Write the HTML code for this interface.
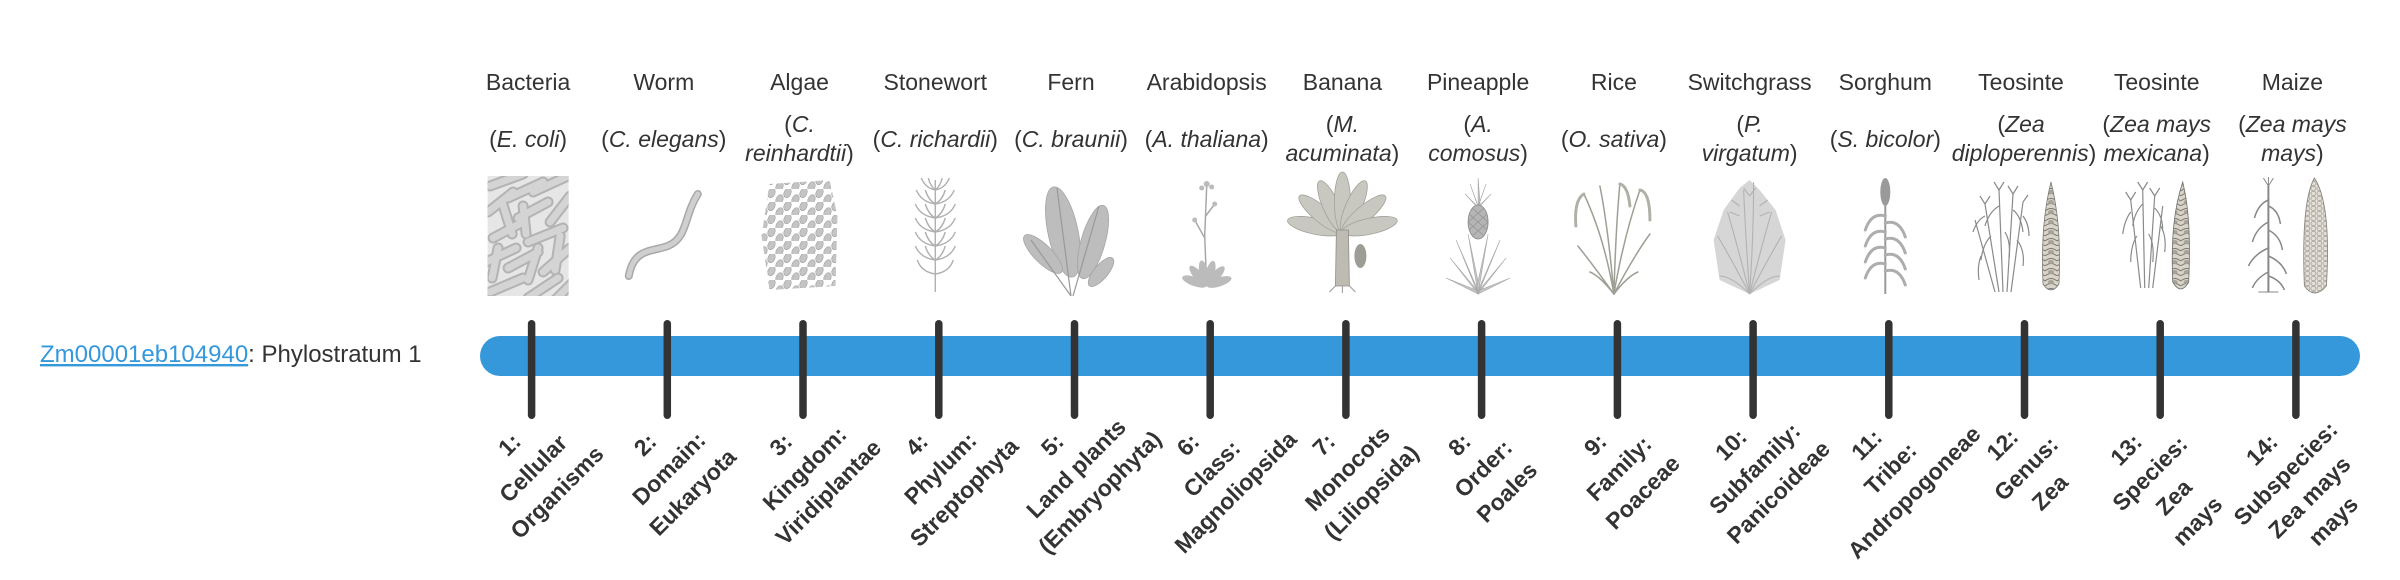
<!DOCTYPE html>
<html>
<head>
<meta charset="utf-8">
<style>
  html,body{margin:0;padding:0;background:#fff;}
  svg{display:block;}
  .t{font-family:"Liberation Sans",sans-serif;font-size:23px;fill:#333;text-anchor:middle;}
  .i{font-style:italic;}
  .lb{font-family:"Liberation Sans",sans-serif;font-weight:bold;font-size:23px;fill:#333;text-anchor:middle;dominant-baseline:central;}
  .gl{font-family:"Liberation Sans",sans-serif;font-size:24px;}
</style>
</head>
<body>
<svg width="2400" height="580" viewBox="0 0 2400 580" xmlns="http://www.w3.org/2000/svg">
<defs>
  <pattern id="alg" width="16" height="13" patternUnits="userSpaceOnUse">
    <ellipse cx="4" cy="4" rx="3.4" ry="5" transform="rotate(25 4 4)" fill="#c4c4c4" stroke="#a2a2a2" stroke-width="0.6"/>
    <ellipse cx="12" cy="10.5" rx="3.4" ry="5" transform="rotate(25 12 10.5)" fill="#c4c4c4" stroke="#a2a2a2" stroke-width="0.6"/>
    <path d="M6 -1 q3 -3 6 -2 M14 6 q3 -3 4 -5" stroke="#cfcfcf" stroke-width="0.5" fill="none"/>
  </pattern>
  <pattern id="kern" width="6" height="5" patternUnits="userSpaceOnUse">
    <rect x="0" y="0" width="6" height="5" fill="#ebe8e2"/>
    <rect x="0.6" y="0.6" width="4.8" height="3.8" rx="1.4" fill="#e2ded6" stroke="#9a958c" stroke-width="0.6"/>
  </pattern>
  <pattern id="tcob" width="12" height="10" patternUnits="userSpaceOnUse">
    <rect width="12" height="10" fill="#d9d4ca"/>
    <path d="M0 5 Q6 0 12 5 M0 10 Q6 5 12 10" stroke="#7c776e" stroke-width="1" fill="none"/>
    <ellipse cx="6" cy="6" rx="3" ry="2" fill="#a9a397"/>
  </pattern>
  <clipPath id="bac"><rect x="-40.5" y="0" width="81" height="120"/></clipPath>
  <clipPath id="algc"><path d="M-30 8 L30 4 L38 40 L36 110 L-30 114 L-38 60 Z"/></clipPath>
</defs>

<!-- Left label -->
<text x="40" y="362" class="gl"><tspan fill="#3498db" text-decoration="underline">Zm00001eb104940</tspan><tspan fill="#333">: Phylostratum 1</tspan></text>

<!-- Top names -->
<g class="t">
  <text x="528.1" y="90">Bacteria</text>
  <text x="663.8" y="90">Worm</text>
  <text x="799.5" y="90">Algae</text>
  <text x="935.3" y="90">Stonewort</text>
  <text x="1071.0" y="90">Fern</text>
  <text x="1206.7" y="90">Arabidopsis</text>
  <text x="1342.4" y="90">Banana</text>
  <text x="1478.1" y="90">Pineapple</text>
  <text x="1613.9" y="90">Rice</text>
  <text x="1749.6" y="90">Switchgrass</text>
  <text x="1885.3" y="90">Sorghum</text>
  <text x="2021.0" y="90">Teosinte</text>
  <text x="2156.7" y="90">Teosinte</text>
  <text x="2292.4" y="90">Maize</text>
</g>

<!-- Scientific names -->
<g class="t">
  <text x="528.1" y="147">(<tspan class="i">E. coli</tspan>)</text>
  <text x="663.8" y="147">(<tspan class="i">C. elegans</tspan>)</text>
  <text x="799.5" y="132">(<tspan class="i">C.</tspan></text>
  <text x="799.5" y="161"><tspan class="i">reinhardtii</tspan>)</text>
  <text x="935.3" y="147">(<tspan class="i">C. richardii</tspan>)</text>
  <text x="1071.0" y="147">(<tspan class="i">C. braunii</tspan>)</text>
  <text x="1206.7" y="147">(<tspan class="i">A. thaliana</tspan>)</text>
  <text x="1342.4" y="132">(<tspan class="i">M.</tspan></text>
  <text x="1342.4" y="161"><tspan class="i">acuminata</tspan>)</text>
  <text x="1478.1" y="132">(<tspan class="i">A.</tspan></text>
  <text x="1478.1" y="161"><tspan class="i">comosus</tspan>)</text>
  <text x="1613.9" y="147">(<tspan class="i">O. sativa</tspan>)</text>
  <text x="1749.6" y="132">(<tspan class="i">P.</tspan></text>
  <text x="1749.6" y="161"><tspan class="i">virgatum</tspan>)</text>
  <text x="1885.3" y="147">(<tspan class="i">S. bicolor</tspan>)</text>
  <text x="2021.0" y="132">(<tspan class="i">Zea</tspan></text>
  <text x="2024.0" y="161"><tspan class="i">diploperennis</tspan>)</text>
  <text x="2156.7" y="132">(<tspan class="i">Zea mays</tspan></text>
  <text x="2156.7" y="161"><tspan class="i">mexicana</tspan>)</text>
  <text x="2292.4" y="132">(<tspan class="i">Zea mays</tspan></text>
  <text x="2292.4" y="161"><tspan class="i">mays</tspan>)</text>
</g>

<!-- Images -->
<!-- 1 Bacteria -->
<g transform="translate(528.1,176)">
  <g clip-path="url(#bac)">
    <rect x="-41" y="0" width="82" height="120" fill="#e6e6e6"/>
    <g stroke="#b3b3b3" stroke-width="11" stroke-linecap="round" fill="none">
      <line x1="-38" y1="10" x2="-5" y2="-2"/><line x1="-20" y1="22" x2="15" y2="6"/><line x1="5" y1="16" x2="40" y2="0"/>
      <line x1="-40" y1="36" x2="-15" y2="16"/><line x1="-10" y1="42" x2="20" y2="26"/><line x1="22" y1="46" x2="42" y2="20"/>
      <line x1="-35" y1="62" x2="-5" y2="46"/><line x1="0" y1="66" x2="35" y2="52"/><line x1="-42" y1="86" x2="-12" y2="72"/>
      <line x1="-20" y1="92" x2="10" y2="76"/><line x1="15" y1="96" x2="42" y2="72"/><line x1="-38" y1="116" x2="-5" y2="102"/>
      <line x1="0" y1="122" x2="30" y2="102"/><line x1="25" y1="126" x2="45" y2="106"/>
      <line x1="-26" y1="26" x2="-16" y2="58"/><line x1="10" y1="72" x2="0" y2="104"/><line x1="32" y1="60" x2="27" y2="94"/>
      <line x1="-30" y1="72" x2="-36" y2="102"/><line x1="-5" y1="30" x2="-2" y2="58"/>
    </g>
    <g stroke="#d4d4d4" stroke-width="7" stroke-linecap="round" fill="none">
      <line x1="-38" y1="10" x2="-5" y2="-2"/><line x1="-20" y1="22" x2="15" y2="6"/><line x1="5" y1="16" x2="40" y2="0"/>
      <line x1="-40" y1="36" x2="-15" y2="16"/><line x1="-10" y1="42" x2="20" y2="26"/><line x1="22" y1="46" x2="42" y2="20"/>
      <line x1="-35" y1="62" x2="-5" y2="46"/><line x1="0" y1="66" x2="35" y2="52"/><line x1="-42" y1="86" x2="-12" y2="72"/>
      <line x1="-20" y1="92" x2="10" y2="76"/><line x1="15" y1="96" x2="42" y2="72"/><line x1="-38" y1="116" x2="-5" y2="102"/>
      <line x1="0" y1="122" x2="30" y2="102"/><line x1="25" y1="126" x2="45" y2="106"/>
      <line x1="-26" y1="26" x2="-16" y2="58"/><line x1="10" y1="72" x2="0" y2="104"/><line x1="32" y1="60" x2="27" y2="94"/>
      <line x1="-30" y1="72" x2="-36" y2="102"/><line x1="-5" y1="30" x2="-2" y2="58"/>
    </g>
  </g>
</g>
<!-- 2 Worm -->
<g transform="translate(663.8,176)" fill="none" stroke-linecap="round">
  <path d="M-35 100 C-30 72,-12 76,4 70 C24 62,20 40,34 18" stroke="#a8a8a8" stroke-width="8"/>
  <path d="M-35 100 C-30 72,-12 76,4 70 C24 62,20 40,34 18" stroke="#cfcfcf" stroke-width="5"/>
</g>
<!-- 3 Algae -->
<g transform="translate(799.5,176)">
  <rect x="-40" y="4" width="80" height="112" fill="url(#alg)" clip-path="url(#algc)"/>
</g>
<!-- 4 Stonewort -->
<g transform="translate(935.3,176)" stroke="#b0b0b0" stroke-width="1.4" fill="none">
  <line x1="0" y1="4" x2="0" y2="116"/>
  <path d="M0 14 q-10 -2 -14 -12 M0 14 q10 -2 14 -12 M0 14 q-5 -4 -7 -12 M0 14 q5 -4 7 -12"/>
  <path d="M0 28 q-14 -2 -19 -14 M0 28 q14 -2 19 -14 M0 28 q-7 -4 -10 -14 M0 28 q7 -4 10 -14"/>
  <path d="M0 42 q-15 -2 -20 -14 M0 42 q15 -2 20 -14 M0 42 q-7 -4 -10 -14 M0 42 q7 -4 10 -14"/>
  <path d="M0 56 q-15 -2 -20 -14 M0 56 q15 -2 20 -14 M0 56 q-7 -4 -10 -14 M0 56 q7 -4 10 -14"/>
  <path d="M0 70 q-15 -2 -20 -14 M0 70 q15 -2 20 -14 M0 70 q-7 -4 -10 -14 M0 70 q7 -4 10 -14"/>
  <path d="M0 84 q-15 -2 -20 -14 M0 84 q15 -2 20 -14 M0 84 q-7 -4 -10 -14 M0 84 q7 -4 10 -14"/>
  <path d="M0 98 q-14 -2 -18 -14 M0 98 q14 -2 18 -14"/>
</g>
<!-- 5 Fern -->
<g transform="translate(1071,176)" fill="#bdbdbd" stroke="#a4a4a4" stroke-width="0.8">
  <ellipse cx="-8" cy="56" rx="15" ry="46" transform="rotate(-12 -8 56)"/>
  <ellipse cx="22" cy="66" rx="12" ry="38" transform="rotate(16 22 66)"/>
  <ellipse cx="-28" cy="78" rx="9" ry="26" transform="rotate(-45 -28 78)"/>
  <ellipse cx="30" cy="96" rx="7" ry="18" transform="rotate(40 30 96)"/>
  <path d="M0 120 L-14 12 M2 120 L28 30 M0 120 L-40 64" stroke="#999" stroke-width="1.2" fill="none"/>
</g>
<!-- 6 Arabidopsis -->
<g transform="translate(1206.7,176)">
  <path d="M0 110 L-2 60 L0 10 M-2 62 L-12 44 M-1 40 L8 28" stroke="#a8a8a8" stroke-width="1.5" fill="none"/>
  <g fill="#bbb">
    <circle cx="0" cy="8" r="3"/><circle cx="-5" cy="12" r="2.5"/><circle cx="5" cy="11" r="2.5"/>
    <circle cx="-12" cy="44" r="2.5"/><circle cx="8" cy="28" r="2.5"/>
    <ellipse cx="0" cy="97" rx="4.5" ry="13" transform="rotate(-70 0 110)"/>
    <ellipse cx="0" cy="97" rx="4.5" ry="13" transform="rotate(-40 0 110)"/>
    <ellipse cx="0" cy="97" rx="4.5" ry="13" transform="rotate(-12 0 110)"/>
    <ellipse cx="0" cy="97" rx="4.5" ry="13" transform="rotate(15 0 110)"/>
    <ellipse cx="0" cy="97" rx="4.5" ry="13" transform="rotate(42 0 110)"/>
    <ellipse cx="0" cy="97" rx="4.5" ry="13" transform="rotate(72 0 110)"/>
  </g>
</g>
<!-- 7 Banana -->
<g transform="translate(1342.4,176)">
  <g fill="#c9c8c0" stroke="#a2a29a" stroke-width="0.8">
    <ellipse cx="0" cy="28" rx="8" ry="28" transform="rotate(-78 0 56)"/>
    <ellipse cx="0" cy="28" rx="8" ry="28" transform="rotate(-50 0 56)"/>
    <ellipse cx="0" cy="28" rx="8" ry="28" transform="rotate(-24 0 56)"/>
    <ellipse cx="0" cy="26" rx="8" ry="30" transform="rotate(0 0 56)"/>
    <ellipse cx="0" cy="28" rx="8" ry="28" transform="rotate(24 0 56)"/>
    <ellipse cx="0" cy="28" rx="8" ry="28" transform="rotate(50 0 56)"/>
    <ellipse cx="0" cy="28" rx="8" ry="28" transform="rotate(78 0 56)"/>
  </g>
  <path d="M-6 54 L-7 110 L7 110 L6 54 Z" fill="#bdbbb2" stroke="#8f8e88" stroke-width="0.8"/>
  <ellipse cx="18" cy="80" rx="6" ry="12" fill="#9d9c95"/>
  <path d="M-7 110 l-6 6 M0 110 l0 7 M7 110 l6 6" stroke="#999" stroke-width="1"/>
</g>
<!-- 8 Pineapple -->
<g transform="translate(1478.1,176)">
  <g fill="#c4c4c4" stroke="#a6a6a6" stroke-width="0.6">
    <path d="M0 118 L-28 82 L-3 112 Z"/><path d="M0 118 L-22 64 L-2 110 Z"/><path d="M0 118 L-10 58 L1 110 Z"/>
    <path d="M0 118 L10 58 L-1 110 Z"/><path d="M0 118 L22 64 L2 110 Z"/><path d="M0 118 L28 82 L3 112 Z"/>
    <path d="M0 118 L-32 102 L-2 114 Z"/><path d="M0 118 L32 102 L2 114 Z"/>
    <path d="M0 30 L-8 8 L-1 28 Z"/><path d="M0 30 L0 2 L2 28 Z"/><path d="M0 30 L8 8 L1 28 Z"/>
    <path d="M0 32 L-13 18 L-1 30 Z"/><path d="M0 32 L13 18 L1 30 Z"/>
  </g>
  <ellipse cx="0" cy="46" rx="10" ry="17" fill="#b5b5b5" stroke="#888" stroke-width="0.8"/>
  <path d="M-9 38 L9 54 M-10 46 L6 60 M-6 32 L10 46 M9 38 L-9 54 M10 46 L-6 60 M6 32 L-10 46" stroke="#909090" stroke-width="0.6"/>
</g>
<!-- 9 Rice -->
<g transform="translate(1613.9,176)" fill="none" stroke-linecap="round">
  <g stroke="#9f9f96" stroke-width="1.5">
    <path d="M0 118 Q-10 60 -30 18"/><path d="M0 118 Q-6 50 -14 10"/><path d="M0 118 Q2 50 6 8"/>
    <path d="M0 118 Q10 60 26 14"/><path d="M0 118 Q20 80 36 58"/><path d="M0 118 Q-20 90 -36 70"/>
    <path d="M0 118 Q-14 100 -24 96"/><path d="M0 118 Q14 100 24 96"/>
  </g>
  <g stroke="#b0b0a6" stroke-width="3" stroke-dasharray="3 1.5">
    <path d="M-30 18 Q-40 24 -38 50"/><path d="M26 14 Q36 16 36 44"/><path d="M6 8 Q14 10 16 30"/>
  </g>
</g>
<!-- 10 Switchgrass -->
<g transform="translate(1749.6,176)">
  <path d="M0 118 L-30 104 L-36 64 L-26 34 L-10 12 L0 4 L10 14 L26 34 L36 64 L30 104 Z" fill="#d6d6d6"/>
  <g stroke="#b2b2b2" stroke-width="1.1" fill="none">
    <path d="M0 118 Q-20 80 -32 60"/><path d="M0 118 Q-12 70 -22 36"/><path d="M0 118 Q-4 60 -6 14"/>
    <path d="M0 118 Q4 60 4 6"/><path d="M0 118 Q12 70 22 36"/><path d="M0 118 Q20 80 32 60"/>
    <path d="M0 118 Q-18 100 -30 100"/><path d="M0 118 Q18 100 30 100"/>
    <path d="M-10 30 l-8 -6 M-10 40 l-10 -4 M10 30 l8 -6 M10 40 l10 -4 M0 20 l-6 -8 M0 20 l6 -8"/>
  </g>
</g>
<!-- 11 Sorghum -->
<g transform="translate(1885.3,176)">
  <line x1="0" y1="28" x2="0" y2="118" stroke="#999" stroke-width="2"/>
  <ellipse cx="0" cy="16" rx="5" ry="14" fill="#9a9a9a"/>
  <g stroke="#adadad" stroke-width="3" fill="none" stroke-linecap="round">
    <path d="M0 40 q-14 -4 -20 14"/><path d="M0 47 q14 -4 20 14"/>
    <path d="M0 56 q-14 -4 -20 14"/><path d="M0 63 q14 -4 20 14"/>
    <path d="M0 72 q-14 -4 -20 14"/><path d="M0 79 q14 -4 20 14"/>
    <path d="M0 88 q-14 -4 -20 14"/><path d="M0 95 q14 -4 20 14"/>
  </g>
</g>
<!-- 12 Teosinte -->
<g transform="translate(2021,176)">
  <g stroke="#8a8a8a" stroke-width="1.2" fill="none">
    <path d="M-22 116 L-36 28 M-18 116 L-22 14 M-14 116 L-8 18 M-10 116 L2 26 M-26 116 L-46 44"/>
    <path d="M-36 40 q-8 4 -12 16 M-22 30 q-10 6 -14 20 M-8 34 q8 6 10 22 M2 40 q6 8 6 20 M-30 60 q-8 8 -10 24 M-16 56 q6 10 4 26 M-4 64 q8 10 6 26 M-40 80 q-4 10 -2 24"/>
    <path d="M-36 28 l-5 -8 M-36 28 l5 -8 M-22 14 l-5 -8 M-22 14 l5 -8 M-8 18 l-5 -8 M-8 18 l5 -8 M2 26 l5 -7"/>
  </g>
  <path d="M30 6 C24 30,20 60,22 108 Q30 120 38 108 C40 60,36 30,30 6 Z" fill="url(#tcob)" stroke="#777" stroke-width="0.8"/>
</g>
<!-- 13 Teosinte -->
<g transform="translate(2156.7,176)">
  <g stroke="#8a8a8a" stroke-width="1.2" fill="none">
    <path d="M-16 112 L-26 24 M-12 112 L-14 14 M-8 112 L-2 20 M-4 112 L6 30"/>
    <path d="M-26 36 q-6 8 -8 22 M-14 28 q-8 8 -10 22 M-2 32 q8 8 8 22 M-20 60 q-6 10 -6 26 M-8 58 q6 10 4 28 M4 50 q6 10 4 26"/>
    <path d="M-26 24 l-5 -8 M-26 24 l5 -8 M-14 14 l-5 -8 M-14 14 l5 -8 M-2 20 l-5 -8 M-2 20 l5 -8"/>
  </g>
  <path d="M26 6 C18 30,14 60,16 106 Q24 120 32 106 C34 60,32 30,26 6 Z" fill="url(#tcob)" stroke="#6f6f6f" stroke-width="0.8"/>
</g>
<!-- 14 Maize -->
<g transform="translate(2292.4,176)">
  <g stroke="#888" fill="none">
    <line x1="-24" y1="116" x2="-24" y2="10" stroke-width="2"/>
    <path d="M-24 24 q-10 4 -14 18 M-24 30 q10 4 12 18 M-24 46 q-12 6 -16 20 M-24 54 q12 6 14 20 M-24 72 q-14 6 -20 18 M-24 80 q14 6 18 18 M-24 96 q-12 6 -16 16 M-24 100 q12 4 16 14" stroke-width="1.5"/>
    <path d="M-24 10 l-5 -8 M-24 10 l5 -8 M-24 10 l0 -9 M-34 116 L-14 116" stroke-width="1"/>
  </g>
  <path d="M22 2 C12 20,10 60,12 110 Q22 124 34 110 C37 60,34 20,22 2 Z" fill="url(#kern)" stroke="#8a867e" stroke-width="0.9"/>
</g>

<!-- Bar -->
<rect x="480" y="336" width="1880" height="40" rx="20" ry="20" fill="#3498db"/>

<!-- Ticks -->
<g fill="#333">
  <rect x="527.85" y="320" width="7.5" height="99" rx="3.75"/>
  <rect x="663.55" y="320" width="7.5" height="99" rx="3.75"/>
  <rect x="799.25" y="320" width="7.5" height="99" rx="3.75"/>
  <rect x="935.05" y="320" width="7.5" height="99" rx="3.75"/>
  <rect x="1070.75" y="320" width="7.5" height="99" rx="3.75"/>
  <rect x="1206.45" y="320" width="7.5" height="99" rx="3.75"/>
  <rect x="1342.15" y="320" width="7.5" height="99" rx="3.75"/>
  <rect x="1477.85" y="320" width="7.5" height="99" rx="3.75"/>
  <rect x="1613.65" y="320" width="7.5" height="99" rx="3.75"/>
  <rect x="1749.35" y="320" width="7.5" height="99" rx="3.75"/>
  <rect x="1885.05" y="320" width="7.5" height="99" rx="3.75"/>
  <rect x="2020.75" y="320" width="7.5" height="99" rx="3.75"/>
  <rect x="2156.45" y="320" width="7.5" height="99" rx="3.75"/>
  <rect x="2292.15" y="320" width="7.5" height="99" rx="3.75"/>
</g>

<!-- Rotated labels -->
<g class="lb">
  <g transform="translate(533.1,468.4) rotate(-45)"><text y="-33.6">1:</text><text y="0">Cellular</text><text y="33.6">Organisms</text></g>
  <g transform="translate(668.8,468.4) rotate(-45)"><text y="-33.6">2:</text><text y="0">Domain:</text><text y="33.6">Eukaryota</text></g>
  <g transform="translate(804.5,468.4) rotate(-45)"><text y="-33.6">3:</text><text y="0">Kingdom:</text><text y="33.6">Viridiplantae</text></g>
  <g transform="translate(940.3,468.4) rotate(-45)"><text y="-33.6">4:</text><text y="0">Phylum:</text><text y="33.6">Streptophyta</text></g>
  <g transform="translate(1076.0,468.4) rotate(-45)"><text y="-33.6">5:</text><text y="0">Land plants</text><text y="33.6">(Embryophyta)</text></g>
  <g transform="translate(1211.7,468.4) rotate(-45)"><text y="-33.6">6:</text><text y="0">Class:</text><text y="33.6">Magnoliopsida</text></g>
  <g transform="translate(1347.4,468.4) rotate(-45)"><text y="-33.6">7:</text><text y="0">Monocots</text><text y="33.6">(Liliopsida)</text></g>
  <g transform="translate(1483.1,468.4) rotate(-45)"><text y="-33.6">8:</text><text y="0">Order:</text><text y="33.6">Poales</text></g>
  <g transform="translate(1618.9,468.4) rotate(-45)"><text y="-33.6">9:</text><text y="0">Family:</text><text y="33.6">Poaceae</text></g>
  <g transform="translate(1754.6,468.4) rotate(-45)"><text y="-33.6">10:</text><text y="0">Subfamily:</text><text y="33.6">Panicoideae</text></g>
  <g transform="translate(1890.3,468.4) rotate(-45)"><text y="-33.6">11:</text><text y="0">Tribe:</text><text y="33.6">Andropogoneae</text></g>
  <g transform="translate(2026.0,468.4) rotate(-45)"><text y="-33.6">12:</text><text y="0">Genus:</text><text y="33.6">Zea</text></g>
  <g transform="translate(2161.7,485.2) rotate(-45)"><text y="-50.4">13:</text><text y="-16.8">Species:</text><text y="16.8">Zea</text><text y="50.4">mays</text></g>
  <g transform="translate(2297.4,485.2) rotate(-45)"><text y="-50.4">14:</text><text y="-16.8">Subspecies:</text><text y="16.8">Zea mays</text><text y="50.4">mays</text></g>
</g>
</svg>
</body>
</html>
